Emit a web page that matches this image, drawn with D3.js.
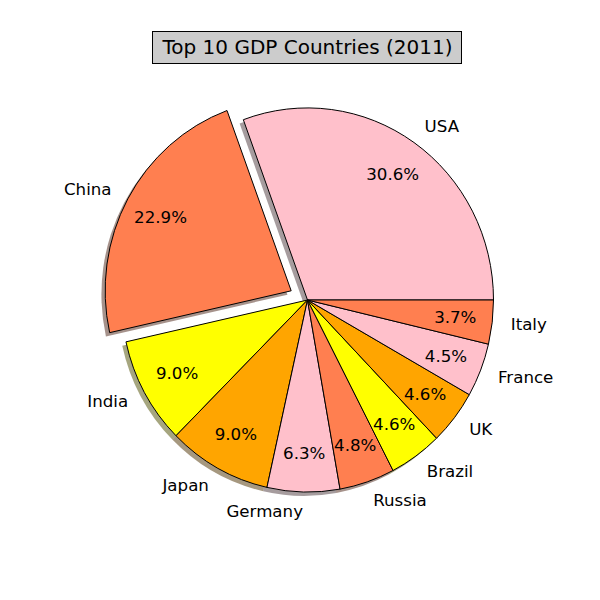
<!DOCTYPE html>
<html>
<head>
<meta charset="utf-8">
<script src="https://cdn.jsdelivr.net/npm/d3@7"></script>
<style>
  body { margin: 0; background: #fff; }
  text { font-family: "DejaVu Sans", sans-serif; fill: #000; }
</style>
</head>
<body>
<div class="chart"></div>
<script>
// pie data (percent share of the 10)
const countries = ["USA", "China", "India", "Japan", "Germany", "Russia", "Brazil", "UK", "France", "Italy"];
const shares = [30.6, 22.9, 9.0, 9.0, 6.3, 4.8, 4.6, 4.6, 4.5, 3.7];
const explode = [0, 0.1, 0, 0, 0, 0, 0, 0, 0, 0];
const palette = ["#FFC0CB", "#FF7F50", "#FFFF00", "#FFA500"];
const title = "Top 10 GDP Countries (2011)";

const W = 600, H = 600;
// axes box is not square, so the pie is a little taller than wide
const cx = 307.5, cy = 300, rx = 186, ry = 192;
const shadowOff = 0.02;
const fs = "16.67px";

const svg = d3.select(".chart").append("svg")
    .attr("width", W).attr("height", H);

const data = countries.map((c, i) => ({name: c, value: shares[i], ex: explode[i]}));

// start at 3 o'clock, go counter-clockwise
const pie = d3.pie()
    .sort(null)
    .value(d => d.value)
    .startAngle(Math.PI / 2)
    .endAngle(Math.PI / 2 - 2 * Math.PI);

const arcs = pie(data);
const arc = d3.arc().innerRadius(0).outerRadius(1);

const sx = d3.scaleLinear().domain([-1, 1]).range([cx - rx, cx + rx]);
const sy = d3.scaleLinear().domain([-1, 1]).range([cy + ry, cy - ry]);

const color = i => palette[i % palette.length];
const shade = c => { const o = d3.rgb(c); return d3.rgb(o.r * 0.3, o.g * 0.3, o.b * 0.3).toString(); };

arcs.forEach(d => {
    d.mid = (d.startAngle + d.endAngle) / 2;
    d.ux = Math.sin(d.mid);
    d.uy = Math.cos(d.mid);
    d.ox = d.ux * d.data.ex;
    d.oy = d.uy * d.data.ex;
});

const place = (x, y) => "translate(" + sx(x) + "," + sy(y) + ") scale(" + rx + "," + ry + ")";

// shadows first
svg.selectAll(".shadow").data(arcs).enter().append("path")
    .attr("class", "shadow")
    .attr("transform", d => place(d.ox - shadowOff, d.oy - shadowOff))
    .attr("d", arc)
    .attr("fill", (d, i) => shade(color(i)))
    .attr("fill-opacity", 0.5);

svg.selectAll(".wedge").data(arcs).enter().append("path")
    .attr("class", "wedge")
    .attr("transform", d => place(d.ox, d.oy))
    .attr("d", arc)
    .attr("fill", (d, i) => color(i))
    .attr("stroke", "#000")
    .attr("stroke-width", 1)
    .attr("vector-effect", "non-scaling-stroke")
    .attr("stroke-linejoin", "round");

// percent labels at 0.8
svg.selectAll(".pct").data(arcs).enter().append("text")
    .attr("class", "pct")
    .attr("x", d => sx(d.ox + d.ux * 0.8))
    .attr("y", d => sy(d.oy + d.uy * 0.8))
    .attr("text-anchor", "middle")
    .attr("dominant-baseline", "central")
    .style("font-size", fs)
    .text(d => d.data.value.toFixed(1) + "%");

// names at 1.1
svg.selectAll(".name").data(arcs).enter().append("text")
    .attr("class", "name")
    .attr("x", d => sx(d.ox + d.ux * 1.1))
    .attr("y", d => sy(d.oy + d.uy * 1.1))
    .attr("text-anchor", d => d.ux > 0 ? "start" : "end")
    .attr("dominant-baseline", "central")
    .style("font-size", fs)
    .text(d => d.data.name);

// title with boxed background
const tg = svg.append("g");
const tbox = tg.append("rect");
const tt = tg.append("text")
    .attr("x", 307.5).attr("y", 47)
    .attr("text-anchor", "middle")
    .attr("dominant-baseline", "central")
    .style("font-size", "20px")
    .text(title);
const bb = tt.node().getBBox();
tbox.attr("x", bb.x - 9).attr("y", 31.5)
    .attr("width", bb.width + 18).attr("height", 32)
    .attr("fill", "#cccccc").attr("stroke", "#000").attr("stroke-width", 1);
</script>
</body>
</html>
